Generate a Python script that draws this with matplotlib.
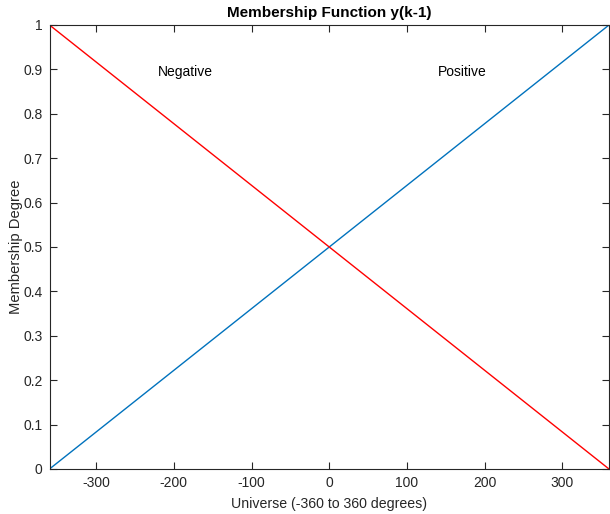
import numpy as np
import matplotlib
matplotlib.use("Agg")
import matplotlib.pyplot as plt
from matplotlib.transforms import offset_copy

plt.rcParams['font.family'] = ['Liberation Sans', 'DejaVu Sans']
plt.rcParams['axes.unicode_minus'] = False

# Universe of discourse and membership breakpoints
universe = [-360, 360]
positive_mu = [0.0, 1.0]
negative_mu = [1.0, 0.0]

label_names = ["Negative", "Positive"]
label_x = [-220, 140]
label_y = [0.9, 0.9]

xticks = [-300, -200, -100, 0, 100, 200, 300]
yticks = [0, 0.1, 0.2, 0.3, 0.4, 0.5, 0.6, 0.7, 0.8, 0.9, 1]
ytick_labels = ["0", "0.1", "0.2", "0.3", "0.4", "0.5", "0.6", "0.7", "0.8", "0.9", "1"]

fig = plt.figure(figsize=(6.10, 5.14), dpi=100)
ax = fig.add_axes([49.5 / 610, 45 / 514, (609 - 49.5) / 610, (469 - 25) / 514])

ax.plot(universe, positive_mu, color="#0072BD", lw=1.0)
ax.plot(universe, negative_mu, color="#FF0000", lw=1.0)

text_tr = offset_copy(ax.transData, fig=fig, x=0, y=-2.5, units="dots")
for name, x, y in zip(label_names, label_x, label_y):
    ax.text(x, y, name, ha="left", va="center", fontsize=10, color="#000000",
            transform=text_tr)

ax.set_xlim(-360, 360)
ax.set_ylim(0, 1)
ax.set_xticks(xticks)
ax.set_yticks(yticks)
ax.set_yticklabels(ytick_labels)

axis_color = "#262626"
for s in ax.spines.values():
    s.set_color(axis_color)
    s.set_linewidth(0.8)
ax.tick_params(direction="in", top=True, right=True, length=5, width=0.8,
               color=axis_color, labelcolor=axis_color, labelsize=10, pad=5)

ax.set_title("Membership Function y(k-1)", fontsize=11, fontweight="bold", pad=6)
ax.set_xlabel("Universe (-360 to 360 degrees)", fontsize=10.2, color=axis_color, labelpad=5)
ax.set_ylabel("Membership Degree", fontsize=10.6, color=axis_color, labelpad=0)

fig.savefig("out.png", dpi=100)
